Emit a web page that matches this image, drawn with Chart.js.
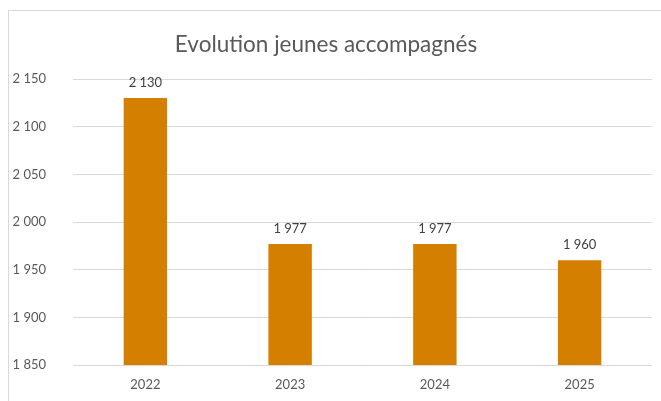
<!DOCTYPE html>
<html>
<head>
<meta charset="utf-8">
<script src="https://cdn.jsdelivr.net/npm/chart.js@4"></script>
<style>
  html, body { margin: 0; background: #fff; overflow: hidden; }
  #frame { position: absolute; left: 8px; top: 10px; width: 653px; height: 391px; border-left: 1px solid #d9d9d9; border-top: 1px solid #d9d9d9; box-sizing: border-box; }
  #chart { position: absolute; left: 0; top: 0; }
</style>
</head>
<body>
<div id="frame"></div>
<canvas id="chart" width="661" height="401"></canvas>
<script>
// data
const years = ['2022', '2023', '2024', '2025'];
const jeunes = [2130, 1977, 1977, 1960];
const yMin = 1850;
const yMax = 2150;
const yStep = 50;

// "2 150" style numbers
function fmt(n) {
  return String(n).replace(/\B(?=(\d{3})+(?!\d))/g, ' ');
}

const fontFam = 'Lato, "Open Sans", sans-serif';

// draw value on top of each bar
const barLabels = {
  id: 'barLabels',
  afterDatasetsDraw(chart) {
    const ctx = chart.ctx;
    ctx.save();
    ctx.font = '13px ' + fontFam;
    ctx.fillStyle = '#404040';
    ctx.textAlign = 'center';
    ctx.textBaseline = 'bottom';
    chart.getDatasetMeta(0).data.forEach((bar, i) => {
      ctx.fillText(fmt(jeunes[i]), bar.x, bar.y - 9);
    });
    ctx.restore();
  }
};

new Chart(document.getElementById('chart'), {
  type: 'bar',
  data: {
    labels: years,
    datasets: [{
      data: jeunes,
      backgroundColor: '#D47F00',
      categoryPercentage: 1,
      barPercentage: 0.3
    }]
  },
  options: {
    responsive: false,
    animation: false,
    layout: { padding: { left: 0, right: 9, top: 0, bottom: 8 } },
    plugins: {
      legend: { display: false },
      tooltip: { enabled: false },
      title: {
        display: true,
        text: 'Evolution jeunes accompagnés',
        color: '#595959',
        font: { family: fontFam, size: 22.5, weight: 'normal' },
        padding: { top: 31, bottom: 21 }
      }
    },
    scales: {
      x: {
        afterFit(scale) { scale.height = 28; },
        grid: { display: false, drawTicks: false },
        border: { display: false },
        ticks: { color: '#595959', font: { family: fontFam, size: 13 }, padding: 12, maxRotation: 0 }
      },
      y: {
        min: yMin,
        max: yMax,
        afterFit(scale) { scale.width = 73; },
        grid: { color: '#d9d9d9', drawTicks: false },
        border: { display: false },
        ticks: {
          stepSize: yStep,
          color: '#595959',
          font: { family: fontFam, size: 13 },
          padding: 27,
          callback: (v) => fmt(v)
        }
      }
    }
  },
  plugins: [barLabels]
});
</script>
</body>
</html>
